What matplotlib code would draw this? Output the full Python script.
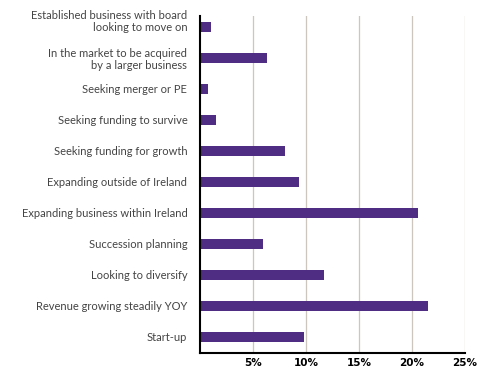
import matplotlib
matplotlib.use('Agg')
import matplotlib.pyplot as plt
import matplotlib.transforms as mtransforms
import numpy as np

categories = ['Established business with board\nlooking to move on',
              'In the market to be acquired\nby a larger business',
              'Seeking merger or PE',
              'Seeking funding to survive',
              'Seeking funding for growth',
              'Expanding outside of Ireland',
              'Expanding business within Ireland',
              'Succession planning',
              'Looking to diversify',
              'Revenue growing steadily YOY',
              'Start-up']
values = [1.1, 6.3, 0.8, 1.5, 8.0, 9.3, 20.6, 6.0, 11.7, 21.5, 9.8]
xticks = [5, 10, 15, 20, 25]
xticklabels = ['5%', '10%', '15%', '20%', '25%']

purple = '#4e2d82'

fig = plt.figure(figsize=(4.85, 3.69), dpi=100)
ax = fig.add_axes([0.412, 0.043, 0.547, 0.914])

ypos = np.arange(len(categories))[::-1]
ax.barh(ypos, values, height=0.31, color=purple, zorder=3)

ax.set_xlim(0, 25)
ax.set_ylim(-0.52, 10.35)
ax.set_yticks(ypos)
ax.set_yticklabels(categories, fontsize=8, color='#444444', family=['Lato', 'DejaVu Sans'],
                   ha='right', multialignment='right', linespacing=1.15)
ax.set_xticks(xticks)
ax.set_xticklabels(xticklabels, fontsize=7.5, fontweight='bold', color='black')
ax.tick_params(axis='both', length=0)
ax.tick_params(axis='y', pad=9)
ax.tick_params(axis='x', pad=3.5)

# top label sits a bit higher, its second line level with the bar
lab = ax.get_yticklabels()[0]
lab.set_transform(lab.get_transform() + mtransforms.ScaledTranslation(0, 5/72, fig.dpi_scale_trans))

ax.grid(True, axis='x', color='#cdc6bf', linewidth=0.9, zorder=0)
for s in ['top', 'right']:
    ax.spines[s].set_visible(False)
ax.spines['left'].set_linewidth(1.5)
ax.spines['bottom'].set_linewidth(1.5)
ax.spines['left'].set_zorder(4)

plt.savefig('out.png', dpi=100)
